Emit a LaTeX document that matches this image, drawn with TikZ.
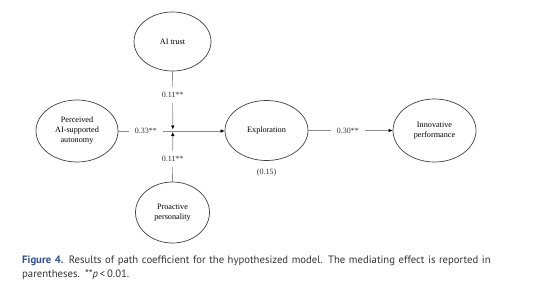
\documentclass[tikz,border=0pt]{standalone}
\usepackage{fontspec}
\setmainfont{Liberation Serif}
\newfontfamily\capfont{PT Sans}
\usetikzlibrary{shapes.geometric,arrows.meta}
\definecolor{capblue}{HTML}{2E4F9A}
\definecolor{captext}{HTML}{333333}
\begin{document}
\begin{tikzpicture}[x=1pt,y=-1pt,
  var/.style={ellipse,draw=black!75,line width=0.7pt,align=center,font=\fontsize{8.2}{10}\selectfont,inner sep=0pt},
  path/.style={draw=black!45,line width=0.6pt},
  arr/.style={path,-{Latex[length=4pt,width=3.5pt,fill=black,color=black]}},
  coef/.style={fill=white,inner xsep=6pt,inner ysep=5pt,font=\fontsize{8}{10}\selectfont,text=black!80}
]
\useasboundingbox (0,0) rectangle (554,298);
\node[var,minimum width=77pt,minimum height=59pt] (trust) at (172.5,41.5) {AI trust};
\node[var,minimum width=82pt,minimum height=62pt] (perc) at (77,131) {Perceived\\AI-supported\\autonomy};
\node[var,minimum width=83pt,minimum height=60pt] (expl) at (266.5,130.5) {Exploration};
\node[var,minimum width=83pt,minimum height=63pt] (innov) at (434.5,130.5) {Innovative\\performance};
\node[var,minimum width=74pt,minimum height=61pt] (proact) at (172.5,212.5) {Proactive\\personality};
\coordinate (jt) at (172.8,129.5);
\coordinate (jb) at (172.8,132.0);
\draw[arr] (perc.east |- 0,131) -- node[coef,pos=0.26] {0.33**} (expl.west |- 0,131);
\draw[arr] (trust.south) -- node[coef,pos=0.41] {0.11**} (jt);
\draw[arr] (proact.north) -- node[coef,pos=0.46] {0.11**} (jb);
\draw[arr] (expl.east) -- node[coef,pos=0.47] {0.30**} (innov.west);
\node[font=\fontsize{8}{10}\selectfont,text=black!80] (med) at (266.5,173) {(0.15)};
\node[anchor=north west,inner sep=0pt,text width=530pt,align=left,text=captext,
  font=\capfont\fontsize{10.7}{14}\selectfont] (cap) at (22,256)
  {{\bfseries\color{capblue}Figure 4.} Results of path coefficient for the hypothesized model. The mediating effect is reported in\\parentheses. **\textit{p}\,<\,0.01.};
\end{tikzpicture}
\end{document}
